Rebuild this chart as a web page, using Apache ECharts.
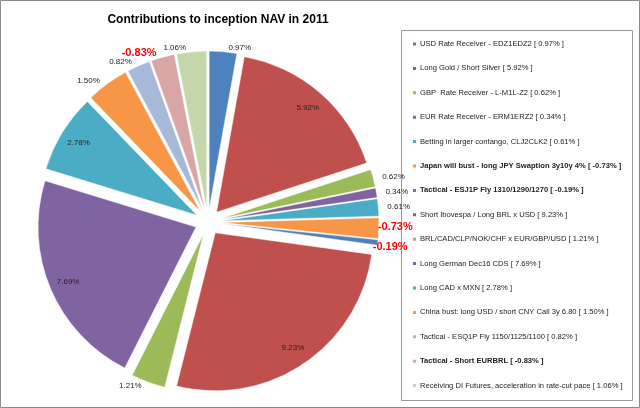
<!DOCTYPE html><html><head><meta charset="utf-8"><script src="https://cdn.jsdelivr.net/npm/echarts@6/dist/echarts.min.js"></script>
<style>body{margin:0}#c{width:640px;height:408px}</style></head><body><div id="c"></div><script>
var names=["USD Rate Receiver - EDZ1EDZ2","Long Gold / Short Silver","GBP  Rate Receiver - L-M1L-Z2","EUR Rate Receiver - ERM1ERZ2","Betting in larger contango, CLJ2CLK2","Japan will bust - long JPY Swaption 3y10y 4%","Tactical - ESJ1P Fly 1310/1290/1270","Short Ibovespa / Long BRL x USD","BRL/CAD/CLP/NOK/CHF x EUR/GBP/USD","Long German Dec16 CDS","Long CAD x MXN","China bust: long USD / short CNY Call 3y 6.80","Tactical - ESQ1P Fly 1150/1125/1100","Tactical - Short EURBRL","Receiving DI Futures, acceleration in rate-cut pace"];
var values=[0.97,5.92,0.62,0.34,0.61,-0.73,-0.19,9.23,1.21,7.69,2.78,1.50,0.82,-0.83,1.06];
var colors=["#4F81BD","#C0504D","#9BBB59","#8064A2","#4BACC6","#F79646","#4F81BD","#C0504D","#9BBB59","#8064A2","#4BACC6","#F79646","#A7B9D9","#D9A6A5","#C4D7AB"];
var fmt=function(v){return v.toFixed(2)+'%';};
var data=names.map(function(n,i){var lab={};
 if(values[i]<0) lab={color:'#FF0000',fontWeight:'bold',fontSize:11};
 else if(values[i]>2) lab={show:false};
 return {name:n,value:Math.abs(values[i]),raw:values[i],selected:true,itemStyle:{color:colors[i]},label:lab};});
var data2=names.map(function(n,i){return {name:n,value:Math.abs(values[i]),raw:values[i],selected:true,
 itemStyle:{color:'rgba(0,0,0,0)'},label:{show:values[i]>2}};});
var chart=echarts.init(document.getElementById('c'));
chart.setOption({
 backgroundColor:'#fff',
 graphic:[{type:'rect',shape:{x:0.5,y:0.5,width:639,height:407},style:{fill:null,stroke:'#888',lineWidth:1}},
          {type:'rect',shape:{x:401.5,y:30.5,width:231,height:370},style:{fill:null,stroke:'#999',lineWidth:1}}],
 title:{text:'Contributions to inception NAV in 2011',left:213,top:9,textAlign:'center',textStyle:{fontFamily:'Liberation Sans',fontSize:12,fontWeight:'bold',color:'#000'}},
 legend:{data:names,orient:'vertical',left:406,top:35,itemWidth:5,itemHeight:5,itemGap:16.4,icon:'rect',selectedMode:false,
  textStyle:{fontFamily:'Liberation Sans',fontSize:7.6,color:'#222',padding:[0,0,0,-2],rich:{b:{fontWeight:'bold',fontSize:7.6,fontFamily:'Liberation Sans'}}},
  formatter:function(n){var i=names.indexOf(n);var s=n+' [ '+fmt(values[i])+' ]';return values[i]<0?'{b|'+s+'}':s;}},
 series:[{type:'pie',center:[208,222],radius:[0,158],startAngle:90,clockwise:true,selectedMode:'multiple',selectedOffset:13,
  avoidLabelOverlap:false,animation:false,data:data,
  itemStyle:{borderColor:'#fff',borderWidth:0.5},
  label:{position:'outside',distance:4,fontFamily:'Liberation Sans',fontSize:8,color:'#222',formatter:function(p){return fmt(p.data.raw);}},
  labelLine:{show:false,length:4,length2:0},
  labelLayout:function(p){if(p.dataIndex===6)return {dx:-14,dy:4};if(p.dataIndex===5)return {dx:-10,dy:-1};return {};},
  emphasis:{disabled:true}},
 {type:'pie',center:[208,222],radius:[100,172],startAngle:90,clockwise:true,selectedMode:'multiple',selectedOffset:13,silent:true,
  avoidLabelOverlap:false,animation:false,data:data2,legendHoverLink:false,
  label:{position:'inside',fontFamily:'Liberation Sans',fontSize:8,color:'#222',formatter:function(p){return fmt(p.data.raw);}},
  labelLine:{show:false},emphasis:{disabled:true}}]
});
</script></body></html>
